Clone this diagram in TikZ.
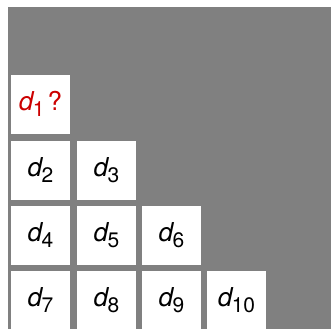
\documentclass[tikz,border=0pt]{standalone}
\usepackage{fontspec}
\setmainfont{TeX Gyre Heros}
\definecolor{bggray}{RGB}{128,128,128}
\definecolor{qred}{RGB}{204,0,0}
\newcommand{\dlab}[1]{{\itshape d}\kern-0.5pt\raisebox{-6pt}{\fontsize{21}{21}\selectfont #1}}
\tikzset{
  cell/.style={fill=white, draw=none, minimum width=59pt, minimum height=59pt,
    inner sep=0pt, text height=14pt, text depth=1.6pt,
    font=\fontsize{26}{30}\selectfont}
}
\begin{document}
\begin{tikzpicture}[x=1pt,y=-1pt]
\useasboundingbox (0,0) rectangle (331,329);
\fill[white] (0,0) rectangle (331,329);
\fill[bggray] (8,7) rectangle (331,329);
\node[cell, text=qred] (d1) at (40.5,104.5) {\dlab{1}\kern3pt?};
\node[cell] (d2) at (40.5,170.5) {\dlab{2}};
\node[cell] (d3) at (106.5,170.5) {\dlab{3}};
\node[cell] (d4) at (40.5,235.5) {\dlab{4}};
\node[cell] (d5) at (106.5,235.5) {\dlab{5}};
\node[cell] (d6) at (171.5,235.5) {\dlab{6}};
\node[cell] (d7) at (40.5,300.5) {\dlab{7}};
\node[cell] (d8) at (106.5,300.5) {\dlab{8}};
\node[cell] (d9) at (171.5,300.5) {\dlab{9}};
\node[cell] (d10) at (236.5,300.5) {\dlab{10}};
\end{tikzpicture}
\end{document}
